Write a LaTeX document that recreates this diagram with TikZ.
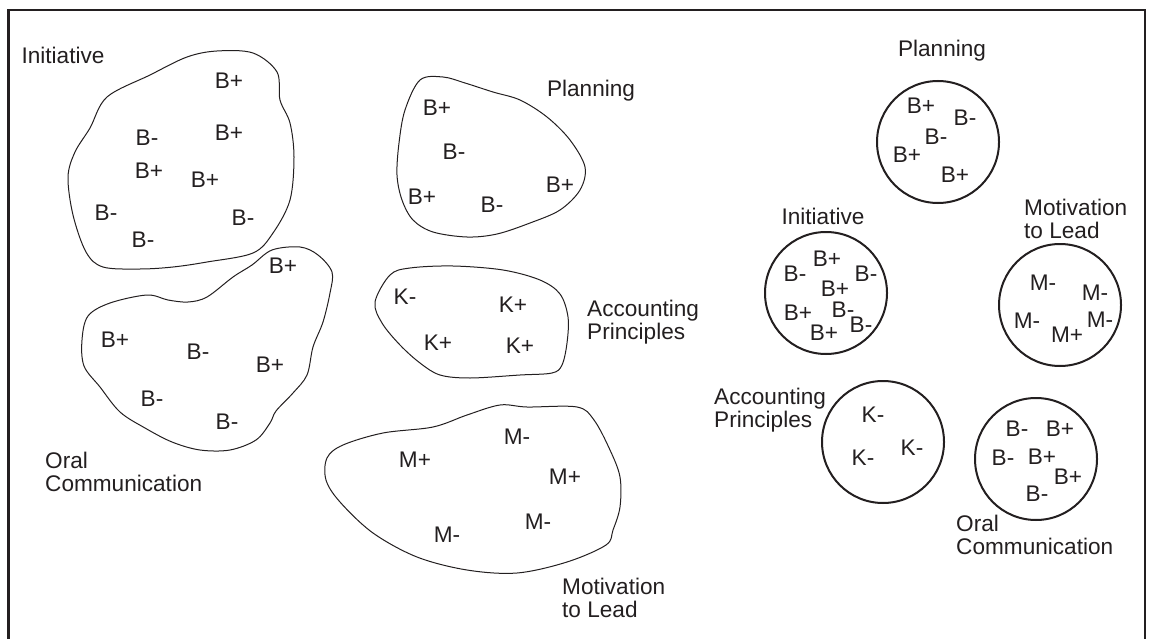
\documentclass[tikz,border=0pt]{standalone}
\usepackage{fontspec}
\setmainfont{Liberation Sans}
\definecolor{ink}{RGB}{35,31,32}
\begin{document}
\begin{tikzpicture}[x=1pt,y=-1pt,
  lbl/.style={inner sep=0pt, text=ink, font=\fontsize{22.6}{23}\selectfont},
  mlbl/.style={lbl, align=left, anchor=west},
  blob/.style={draw=ink, line width=1pt},
  ring/.style={draw=ink, line width=2pt, circle, minimum size=122pt, inner sep=0pt},
  frame/.style={draw=ink, line width=2.6pt}]
\useasboundingbox (0,0) rectangle (1150,639);
% frame
\coordinate (fbl) at (8.5,645);
\coordinate (ftl) at (8.5,10);
\coordinate (ftr) at (1145,10);
\coordinate (fbr) at (1145,645);
\draw[frame] (fbl) -- (ftl) -- (ftr) -- (fbr);

% ---------- left: blobs ----------
% Initiative blob
\draw[blob] plot[smooth cycle, tension=0.55] coordinates {
 (107,97) (150,75) (187,57) (217,51) (253,53) (277,72) (280,100) (290,123)
 (294,157) (290,200) (273,233) (253,253) (207,262) (173,267) (140,269)
 (103,267) (86,252) (73,215) (68,177) (75,152) (90,128)};
\node[lbl] (iname) at (63,55) {Initiative};
\node[lbl] (i1) at (229,81) {B+};
\node[lbl] (i2) at (229,133) {B+};
\node[lbl] (i3) at (147,138) {B-};
\node[lbl] (i4) at (149,171) {B+};
\node[lbl] (i5) at (205,180) {B+};
\node[lbl] (i6) at (106,213) {B-};
\node[lbl] (i7) at (243,218) {B-};
\node[lbl] (i8) at (143,240) {B-};

% Oral Communication blob
\draw[blob] plot[smooth cycle, tension=0.55] coordinates {
 (147,295) (110,303) (88,316) (82,340) (84,366) (100,387) (120,412)
 (145,428) (172,442) (200,450) (230,450) (256,440) (270,423) (276,411)
 (293,393) (307,375) (313,347) (323,322) (330,293) (332,272) (318,255)
 (300,247) (272,250) (252,265) (233,277) (207,297) (188,302) (168,300)};
\node[lbl] (o1) at (283,266) {B+};
\node[lbl] (o2) at (115,340) {B+};
\node[lbl] (o3) at (198,352) {B-};
\node[lbl] (o4) at (270,365) {B+};
\node[lbl] (o5) at (152,399) {B-};
\node[lbl] (o6) at (227,422) {B-};
\node[mlbl] (oname) at (45,472) {Oral\\Communication};

% Planning blob
\draw[blob] plot[smooth cycle, tension=0.55] coordinates {
 (420,80) (443,77) (465,83) (493,92) (520,100) (547,117) (570,140)
 (585,167) (580,190) (560,210) (530,223) (497,234) (467,237) (433,232)
 (413,220) (402,200) (397,175) (399,143) (405,110)};
\node[lbl] (pname) at (591,91) {Planning};
\node[lbl] (p1) at (437,108) {B+};
\node[lbl] (p2) at (454,152) {B-};
\node[lbl] (p3) at (422,197) {B+};
\node[lbl] (p4) at (492,205) {B-};
\node[lbl] (p5) at (560,185) {B+};

% Accounting Principles blob
\draw[blob] plot[smooth cycle, tension=0.55] coordinates {
 (390,275) (410,268) (453,266) (503,270) (540,280) (560,294) (568,317)
 (567,343) (562,365) (552,373) (520,375) (470,378) (440,375) (420,363)
 (400,345) (382,323) (375,302)};
\node[lbl] (k1) at (405,297) {K-};
\node[lbl] (k2) at (513,305) {K+};
\node[lbl] (k3) at (438,343) {K+};
\node[lbl] (k4) at (520,346) {K+};
\node[mlbl] (kname) at (587,322) {Accounting\\Principles};

% Motivation to Lead blob
\draw[blob] plot[smooth cycle, tension=0.55] coordinates {
 (327,458) (343,445) (383,433) (433,427) (467,415) (500,405) (527,407)
 (577,407) (594,420) (610,450) (620,477) (620,507) (613,530) (606,545)
 (567,562) (517,573) (467,570) (417,557) (373,533) (340,502) (326,480)};
\node[lbl] (m1) at (517,437) {M-};
\node[lbl] (m2) at (415,460) {M+};
\node[lbl] (m3) at (565,477) {M+};
\node[lbl] (m4) at (538,522) {M-};
\node[lbl] (m5) at (447,535) {M-};
\node[mlbl] (mname) at (562,598) {Motivation\\to Lead};

% ---------- right: circles ----------
% Planning circle
\node[ring] (cP) at (938,142) {};
\node[lbl] (cPname) at (942,51) {Planning};
\node[lbl] (cp1) at (921,106) {B+};
\node[lbl] (cp2) at (965,118) {B-};
\node[lbl] (cp3) at (936,137) {B-};
\node[lbl] (cp4) at (907,155) {B+};
\node[lbl] (cp5) at (955,175) {B+};

% Initiative circle
\node[ring] (cI) at (826,293) {};
\node[lbl] (cIname) at (823,216) {Initiative};
\node[lbl] (ci1) at (827,259) {B+};
\node[lbl] (ci2) at (795,274) {B-};
\node[lbl] (ci3) at (866,274) {B-};
\node[lbl] (ci4) at (835,289) {B+};
\node[lbl] (ci5) at (798,313) {B+};
\node[lbl] (ci6) at (843,310) {B-};
\node[lbl] (ci7) at (861,325) {B-};
\node[lbl] (ci8) at (824,333) {B+};

% Motivation to Lead circle
\node[ring] (cM) at (1060,305) {};
\node[mlbl] (cMname) at (1024,219) {Motivation\\to Lead};
\node[lbl] (cm1) at (1043,283) {M-};
\node[lbl] (cm2) at (1095,293) {M-};
\node[lbl] (cm3) at (1027,321) {M-};
\node[lbl] (cm4) at (1100,320) {M-};
\node[lbl] (cm5) at (1067,335) {M+};

% Accounting Principles circle
\node[ring] (cK) at (883,442) {};
\node[mlbl] (cKname) at (714,410) {Accounting\\Principles};
\node[lbl] (ck1) at (873,415) {K-};
\node[lbl] (ck2) at (912,448) {K-};
\node[lbl] (ck3) at (863,458) {K-};

% Oral Communication circle
\node[ring] (cO) at (1036,459) {};
\node[lbl] (co1) at (1017,429) {B-};
\node[lbl] (co2) at (1060,429) {B+};
\node[lbl] (co3) at (1003,458) {B-};
\node[lbl] (co4) at (1042,457) {B+};
\node[lbl] (co5) at (1068,477) {B+};
\node[lbl] (co6) at (1037,494) {B-};
\node[mlbl] (cOname) at (956,535) {Oral\\Communication};
\end{tikzpicture}
\end{document}
